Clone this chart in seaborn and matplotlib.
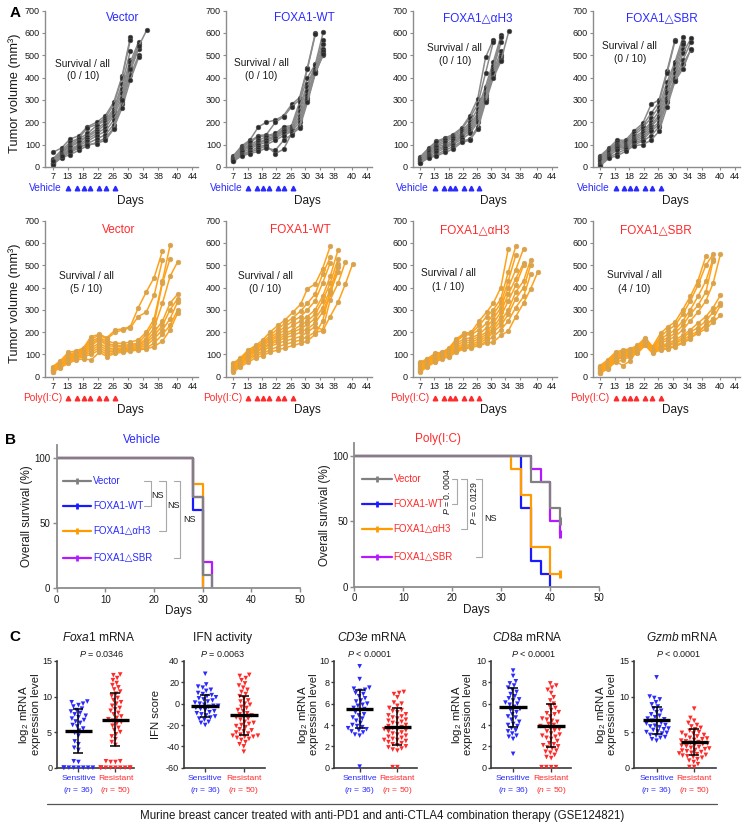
import numpy as np
import pandas as pd
import matplotlib
matplotlib.use("Agg")
import matplotlib.pyplot as plt
import seaborn as sns

# ============================ DATA ============================
# ---- Panel A : tumour growth ----
A_tick_pos = [7, 11, 15, 19, 23, 27, 31, 35, 40, 44]
A_tick_lab = ["7", "13", "18", "22", "26", "30", "34", "38", "40", "44"]
A_yticks = [0, 100, 200, 300, 400, 500, 600, 700]
veh_days = [7, 9.4, 11.6, 14, 16.2, 18.7, 21, 23.2, 25.4, 27.6, 29.8, 32]
poly_days = [7, 9, 11.2, 13.2, 15.2, 17.2, 19.4, 21.4, 23.6, 25.7, 27.6, 29.7, 31.8, 33.9, 36.1, 38.1, 40.1]
dose_days = [11.2, 13.6, 15.3, 16.9, 19.4, 21.2, 23.6]
groups = ["Vector", "FOXA1-WT", "FOXA1△αH3", "FOXA1△SBR"]
veh_survival = ["(0 / 10)", "(0 / 10)", "(0 / 10)", "(0 / 10)"]
poly_survival = ["(5 / 10)", "(0 / 10)", "(1 / 10)", "(4 / 10)"]

veh_vector = [
    [65, 85, 125, 140, 180, 200, 230, 290, 405, 580],
    [35, 75, 110, 130, 175, 190, 220, 280, 400, 570],
    [30, 70, 100, 125, 150, 185, 210, 260, 370, 520],
    [25, 65, 95, 115, 140, 170, 200, 250, 350, 480],
    [20, 60, 90, 110, 135, 160, 190, 240, 330, 470, 560],
    [18, 55, 80, 100, 125, 150, 175, 230, 310, 450, 550],
    [15, 50, 75, 95, 115, 140, 160, 210, 290, 430, 530],
    [12, 45, 65, 85, 105, 125, 145, 190, 280, 410, 500],
    [10, 42, 55, 75, 95, 110, 130, 175, 265, 390, 490],
    [28, 48, 70, 90, 100, 105, 120, 170, 300, 440, 540, 615],
]
veh_wt = [
    [50, 95, 120, 180, 200, 210, 230, 280, 310, 445, 600],
    [45, 90, 115, 140, 145, 200, 225, 270, 300, 440, 595],
    [42, 85, 110, 135, 140, 150, 180, 185, 290, 400, 460, 605],
    [40, 80, 100, 120, 135, 145, 170, 180, 270, 370, 455, 570],
    [38, 75, 95, 110, 125, 140, 165, 175, 250, 360, 440, 550],
    [35, 70, 90, 105, 120, 135, 160, 170, 230, 340, 430, 530],
    [32, 65, 80, 100, 110, 130, 150, 165, 215, 320, 420, 510],
    [30, 60, 70, 90, 100, 120, 140, 160, 200, 310, 430, 500],
    [28, 55, 65, 80, 95, 60, 80, 150, 185, 300, 425, 520],
    [25, 50, 60, 70, 85, 75, 120, 145, 175, 290, 420, 505],
]
veh_ah3 = [
    [45, 85, 115, 130, 145, 175, 230, 305, 490, 570],
    [40, 80, 110, 125, 140, 170, 220, 280, 420, 560],
    [38, 75, 100, 120, 135, 160, 200, 260, 360, 470, 590],
    [35, 70, 95, 110, 130, 150, 190, 240, 350, 450, 580],
    [30, 65, 90, 100, 120, 145, 180, 230, 330, 440, 560],
    [28, 60, 80, 95, 110, 140, 170, 220, 320, 430, 520],
    [25, 55, 75, 90, 105, 135, 160, 210, 310, 420, 500],
    [22, 50, 65, 85, 100, 125, 150, 200, 300, 410, 490],
    [20, 45, 55, 75, 90, 115, 125, 180, 300, 420, 480, 610],
    [18, 40, 50, 65, 80, 110, 120, 170, 290, 400, 475],
]
veh_sbr = [
    [50, 85, 120, 120, 160, 195, 280, 300, 430, 570],
    [45, 80, 110, 115, 150, 185, 240, 290, 420, 565],
    [40, 75, 105, 110, 140, 175, 220, 270, 380, 470, 580],
    [35, 70, 100, 105, 130, 160, 200, 250, 360, 460, 560],
    [30, 65, 95, 100, 125, 150, 190, 230, 340, 440, 550],
    [25, 60, 90, 95, 120, 140, 180, 220, 330, 420, 530],
    [20, 55, 85, 90, 115, 130, 170, 200, 310, 400, 510, 575],
    [15, 50, 75, 85, 110, 120, 160, 190, 300, 390, 480, 560],
    [10, 45, 60, 80, 100, 115, 140, 180, 290, 385, 460, 525],
    [5, 40, 50, 70, 95, 100, 120, 160, 270, 385, 440, 530],
]
poly_vector = [
    [45, 70, 110, 115, 130, 180, 190, 175, 210, 215, 225, 310, 380, 445, 565],
    [40, 65, 100, 110, 125, 170, 185, 170, 200, 210, 220, 270, 290, 365, 525],
    [38, 62, 95, 105, 120, 160, 175, 160, 150, 150, 155, 165, 200, 260, 430, 590],
    [35, 60, 90, 100, 115, 150, 170, 150, 140, 140, 145, 150, 190, 240, 420, 530],
    [32, 58, 85, 98, 110, 140, 165, 140, 135, 135, 140, 145, 170, 220, 330, 450, 515],
    [30, 55, 80, 95, 105, 130, 150, 130, 125, 130, 135, 140, 160, 200, 250, 330, 370],
    [28, 52, 75, 90, 100, 120, 140, 120, 120, 125, 130, 135, 150, 185, 230, 300, 350],
    [25, 50, 70, 85, 95, 110, 130, 110, 115, 120, 125, 130, 140, 170, 210, 260, 335],
    [22, 45, 65, 80, 90, 100, 120, 100, 110, 115, 120, 125, 130, 150, 190, 230, 300],
    [20, 40, 60, 75, 80, 75, 110, 90, 105, 110, 115, 120, 125, 135, 160, 210, 285],
]
poly_wt = [
    [60, 85, 120, 140, 165, 200, 230, 255, 290, 325, 395, 415, 485, 585],
    [55, 80, 115, 135, 155, 185, 215, 240, 265, 295, 330, 370, 460, 535],
    [50, 75, 110, 130, 150, 175, 200, 225, 250, 270, 300, 340, 420, 510],
    [45, 72, 105, 125, 145, 165, 190, 210, 230, 250, 270, 300, 360, 450, 570],
    [40, 68, 100, 120, 140, 160, 180, 195, 210, 230, 250, 280, 340, 420, 530],
    [35, 65, 95, 115, 130, 150, 170, 185, 200, 215, 235, 260, 310, 390, 505],
    [30, 60, 90, 110, 125, 145, 160, 175, 185, 200, 215, 240, 290, 370, 490],
    [28, 55, 85, 100, 115, 135, 150, 160, 170, 180, 200, 225, 210, 345, 420, 515],
    [25, 50, 75, 95, 105, 120, 135, 145, 155, 165, 180, 200, 205, 270, 335, 415, 505],
    [20, 45, 65, 85, 95, 110, 120, 130, 140, 150, 160, 190, 250, 380, 470],
]
poly_ah3 = [
    [65, 80, 105, 110, 130, 170, 195, 200, 250, 290, 330, 400, 575],
    [60, 78, 100, 108, 125, 165, 190, 195, 230, 270, 300, 350, 470, 585],
    [55, 75, 98, 105, 120, 160, 185, 190, 210, 240, 280, 330, 430, 545],
    [50, 70, 95, 103, 115, 150, 170, 175, 190, 220, 260, 310, 400, 480, 575],
    [45, 68, 90, 100, 110, 140, 160, 165, 180, 200, 240, 290, 370, 440, 510],
    [40, 65, 85, 98, 105, 130, 150, 155, 170, 190, 220, 270, 340, 410, 500],
    [35, 60, 80, 95, 100, 125, 140, 145, 160, 180, 210, 250, 300, 380, 430, 525],
    [30, 55, 75, 90, 95, 120, 135, 140, 150, 170, 200, 230, 280, 350, 400, 500],
    [25, 50, 70, 85, 92, 115, 130, 135, 140, 160, 180, 210, 250, 310, 360, 460],
    [20, 45, 65, 80, 90, 110, 125, 130, 140, 150, 155, 185, 205, 270, 330, 395, 470],
]
poly_sbr = [
    [50, 75, 110, 120, 125, 140, 175, 135, 195, 225, 245, 300, 360, 430, 540],
    [45, 70, 105, 115, 120, 135, 170, 130, 180, 210, 230, 280, 340, 410, 500, 550],
    [40, 65, 100, 110, 118, 130, 165, 128, 170, 190, 210, 250, 300, 360, 430, 530],
    [38, 62, 95, 105, 115, 128, 160, 125, 160, 175, 195, 230, 280, 320, 380, 520],
    [35, 60, 90, 100, 110, 125, 158, 122, 150, 165, 180, 210, 250, 290, 340, 420, 550],
    [30, 55, 85, 95, 105, 120, 155, 120, 140, 150, 165, 185, 210, 240, 270, 310, 365],
    [25, 50, 80, 90, 100, 115, 150, 118, 135, 145, 155, 175, 200, 220, 250, 290, 330],
    [22, 45, 75, 85, 95, 110, 148, 115, 130, 140, 150, 165, 185, 205, 230, 260, 320],
    [18, 40, 70, 50, 70, 120, 145, 110, 125, 130, 140, 155, 175, 195, 215, 245, 275],
    [15, 35, 65, 75, 90, 105, 140, 105, 120, 125, 135, 150, 170, 200, 230, 260],
]

# ---- Panel B : Kaplan-Meier ----
km_groups = ["Vector", "FOXA1-WT", "FOXA1△αH3", "FOXA1△SBR"]
veh_km_t = [[0, 28, 30, 32], [0, 28, 30], [0, 28, 30], [0, 28, 30, 32]]
veh_km_s = [[100, 70, 10, 0], [100, 60, 0], [100, 80, 0], [100, 70, 20, 0]]
poly_km_t = [[0, 36, 40, 42], [0, 34, 36, 38, 40], [0, 32, 34, 36, 40, 42], [0, 36, 38, 40, 42]]
poly_km_s = [[100, 80, 60, 50], [100, 60, 20, 10, 0], [100, 90, 70, 30, 10, 10], [100, 90, 80, 50, 40]]
poly_censored = [True, False, True, True]

# ---- Panel C : GSE124821 ----
c_titles = [r"$\it{Foxa1}$ mRNA", "IFN activity", r"$\it{CD3e}$ mRNA", r"$\it{CD8a}$ mRNA", r"$\it{Gzmb}$ mRNA"]
c_pvals = [r"$\it{P}$ = 0.0346", r"$\it{P}$ = 0.0063", r"$\it{P}$ < 0.0001", r"$\it{P}$ < 0.0001", r"$\it{P}$ < 0.0001"]
c_groups = ["Sensitive", "Resistant"]
c_n = [36, 50]
foxa1_sens = [9.3, 9.2, 9.0, 8.8, 8.6, 8.3, 8.1, 7.9, 7.7, 7.5, 7.3, 7.1, 6.9, 6.7, 6.5, 6.3, 6.0, 5.8,
              5.5, 5.2, 4.9, 4.5, 3.7, 3.3, 2.8, 2.5, 0.9, 0.8, 0, 0, 0, 0, 0, 0, 0, 0]
foxa1_res = [13.1, 13.0, 12.6, 12.3, 11.9, 11.6, 11.3, 11.0, 10.7, 10.4, 10.1, 9.8, 9.5, 9.2, 9.0, 8.7,
             8.4, 8.2, 8.0, 7.7, 7.5, 7.2, 7.0, 6.8, 6.6, 6.4, 6.2, 5.9, 5.6, 5.3, 5.0, 4.7, 4.4, 4.0,
             3.6, 3.2, 0.9, 0.9, 0.8, 0.8, 0, 0, 0, 0, 0, 0, 0, 0, 0, 0]
ifn_sens = [28, 18, 16, 15, 13, 12, 10, 9, 8, 7, 6, 5, 4, 3, 2, 1, 0, -1, -2, -2, -3, -4, -5, -6, -7,
            -8, -9, -10, -11, -12, -13, -14, -15, -17, -18, -20]
ifn_res = [27, 26, 24, 22, 19, 17, 15, 13, 11, 9, 7, 5, 3, 2, 0, -1, -3, -4, -6, -7, -9, -10, -11, -12,
           -13, -14, -15, -17, -18, -19, -20, -21, -22, -24, -25, -26, -27, -28, -29, -30, -30, -31,
           -31, -32, -33, -34, -36, -38, -40, -45]
cd3e_sens = [9.5, 8.3, 7.5, 7.4, 7.3, 7.2, 7.0, 6.9, 6.7, 6.5, 6.3, 6.2, 6.0, 5.9, 5.8, 5.6, 5.5, 5.4,
             5.2, 5.0, 4.9, 4.7, 4.6, 4.4, 4.2, 4.0, 3.9, 3.8, 3.7, 3.6, 3.5, 3.4, 3.3, 3.1, 3.0, 0.1]
cd3e_res = [7.1, 7.0, 6.9, 6.6, 6.1, 6.0, 5.8, 5.6, 5.4, 5.2, 5.0, 4.9, 4.8, 4.6, 4.5, 4.4, 4.3, 4.2,
            4.1, 4.0, 3.9, 3.8, 3.7, 3.6, 3.5, 3.4, 3.3, 3.2, 3.1, 3.0, 2.9, 2.8, 2.7, 2.6, 2.5, 2.4,
            2.3, 2.2, 2.1, 2.0, 1.9, 1.8, 1.7, 1.6, 2.6, 3.6, 4.7, 5.3, 0.05, 0.05]
cd8a_sens = [9.1, 8.6, 8.1, 7.9, 7.7, 7.5, 7.3, 7.1, 6.9, 6.7, 6.5, 6.4, 6.3, 6.1, 6.0, 5.9, 5.7, 5.5,
             5.4, 5.2, 5.0, 4.8, 4.7, 4.5, 4.3, 4.1, 4.0, 3.9, 3.7, 3.5, 3.4, 3.2, 3.0, 2.9, 2.7, 1.3]
cd8a_res = [7.9, 7.7, 7.5, 7.3, 7.0, 6.6, 6.3, 6.0, 5.8, 5.6, 5.4, 5.2, 5.0, 4.8, 4.6, 4.5, 4.3, 4.1,
            4.0, 3.9, 3.8, 3.6, 3.5, 3.4, 3.2, 3.1, 3.0, 2.9, 2.7, 2.5, 2.3, 2.1, 2.0, 1.9, 1.8, 1.6,
            1.4, 1.2, 1.0, 0.9, 5.1, 4.4, 3.7, 2.8, 2.2, 1.5, 0.05, 0.05, 0.05, 0.05]
gzmb_sens = [12.7, 10.0, 9.8, 9.6, 9.2, 8.9, 8.6, 8.3, 8.0, 7.8, 7.5, 7.3, 7.1, 6.9, 6.8, 6.6, 6.5,
             6.3, 6.2, 6.0, 5.9, 5.8, 5.7, 5.5, 5.4, 5.3, 5.1, 5.0, 4.9, 4.8, 4.6, 4.5, 4.3, 4.2, 4.0, 3.8]
gzmb_res = [8.3, 7.0, 6.6, 6.3, 6.0, 5.8, 5.6, 5.4, 5.2, 5.0, 4.9, 4.8, 4.6, 4.5, 4.4, 4.2, 4.1, 4.0,
            3.9, 3.8, 3.7, 3.6, 3.5, 3.4, 3.3, 3.2, 3.1, 3.0, 2.9, 2.8, 2.7, 2.6, 2.5, 2.4, 2.3, 2.2,
            2.1, 2.0, 1.9, 1.8, 1.7, 1.6, 1.5, 1.4, 1.2, 1.0, 0.8, 0.5, 0.1, 0.1]
c_mean_sens = [5.1, -2.0, 5.5, 5.65, 6.65]
c_sd_sens = [3.1, 10.3, 1.8, 1.8, 1.85]
c_mean_res = [6.75, -11.0, 3.85, 3.95, 3.65]
c_sd_res = [3.75, 18.2, 1.72, 2.05, 1.85]
c_ylims = [(0, 15), (-60, 40), (0, 10), (0, 10), (0, 15)]
c_yticks = [[0, 5, 10, 15], [-60, -40, -20, 0, 20, 40], [0, 2, 4, 6, 8, 10], [0, 2, 4, 6, 8, 10], [0, 5, 10, 15]]
c_ylabels = ["log$_2$ mRNA\nexpression level", "IFN score", "log$_2$ mRNA\nexpression level",
             "log$_2$ mRNA\nexpression level", "log$_2$ mRNA\nexpression level"]
caption = "Murine breast cancer treated with anti-PD1 and anti-CTLA4 combination therapy (GSE124821)"

# ============================ STYLE ============================
sns.set_theme(style="white")
plt.rcParams["font.family"] = ["Liberation Sans", "DejaVu Sans"]
plt.rcParams["mathtext.fontset"] = "custom"
plt.rcParams["mathtext.rm"] = "Liberation Sans"
plt.rcParams["mathtext.it"] = "Liberation Sans:italic"
plt.rcParams["mathtext.bf"] = "Liberation Sans:bold"
plt.rcParams["axes.unicode_minus"] = False

BLUE = "#2a2aff"
RED = "#ff2a2a"
GRAY_LINE = "#8a8a8a"
GRAY_MARK = "#2b2b2b"
ORANGE_LINE = "#ffa21a"
ORANGE_MARK = "#d9a24c"
KM_COLORS = ["#808080", "#1a1aff", "#ff9a00", "#b41aff"]
AX_GRAY = "#8c8c8c"
TXT = "#1a1a1a"

W, H = 750, 831
fig = plt.figure(figsize=(W / 100, H / 100), dpi=100)


def add_ax(l, t, r, b):
    return fig.add_axes([l / W, 1 - b / H, (r - l) / W, (b - t) / H])


def ftext(x, y, s, **kw):
    fig.text(x / W, 1 - y / H, s, **kw)


def style_axes(ax, color, lw, length, labelsize, pad):
    for s in ["top", "right"]:
        ax.spines[s].set_visible(False)
    for s in ["left", "bottom"]:
        ax.spines[s].set_color(color)
        ax.spines[s].set_linewidth(lw)
    ax.tick_params(axis="both", which="both", bottom=True, left=True, direction="out",
                   length=length, width=lw * 0.8, color=color, labelsize=labelsize,
                   pad=pad, labelcolor=TXT)
    ax.grid(False)


# ============================ PANEL A ============================
col_bounds = [(45, 198), (226, 372), (413, 557), (593, 740)]
row_bounds = [(10.5, 167), (220.7, 376.7)]
title_xy = [[(0.51, 0.953), (0.54, 0.953), (0.45, 0.953), (0.47, 0.953)],
            [(0.48, 0.938), (0.507, 0.938), (0.43, 0.938), (0.43, 0.938)]]
surv_xy = [[(0.246, 0.66, 0.58), (0.24, 0.665, 0.58), (0.29, 0.76, 0.675), (0.25, 0.775, 0.69)],
           [(0.27, 0.647, 0.56), (0.267, 0.647, 0.56), (0.245, 0.663, 0.577), (0.28, 0.652, 0.565)]]

rows = [
    dict(series=[veh_vector, veh_wt, veh_ah3, veh_sbr], days=veh_days, lc=GRAY_LINE, mc=GRAY_MARK,
         mec="#555555", tc=BLUE, treat="Vehicle", surv=veh_survival),
    dict(series=[poly_vector, poly_wt, poly_ah3, poly_sbr], days=poly_days, lc=ORANGE_LINE,
         mc=ORANGE_MARK, mec=ORANGE_MARK, tc=RED, treat="Poly(I:C)", surv=poly_survival),
]

for r, row in enumerate(rows):
    for c in range(4):
        l, rr = col_bounds[c]
        t, b = row_bounds[r]
        ax = add_ax(l, t, rr, b)
        recs = []
        for m, vals in enumerate(row["series"][c]):
            for d, v in zip(row["days"], vals):
                recs.append({"mouse": m, "day": d, "vol": v})
        df = pd.DataFrame(recs)
        sns.lineplot(data=df, x="day", y="vol", units="mouse", estimator=None, sort=False,
                     color=row["lc"], linewidth=1.1, marker="o", markersize=3.4,
                     markerfacecolor=row["mc"], markeredgecolor=row["mec"], markeredgewidth=0.4,
                     ax=ax, legend=False)
        ax.set_xlim(5, 45.5)
        ax.set_ylim(0, 700)
        ax.set_xticks(A_tick_pos)
        ax.set_xticklabels(A_tick_lab)
        ax.set_yticks(A_yticks)
        style_axes(ax, AX_GRAY, 1.0, 2.5, 6.5, 1.2)
        ax.set_xlabel("")
        ax.set_ylabel("")
        ax.text(0.56, -0.215, "Days", transform=ax.transAxes, ha="center", va="center",
                fontsize=8.5, color=TXT)
        tx, ty = title_xy[r][c]
        ax.text(tx, ty, groups[c], transform=ax.transAxes, ha="center", va="center",
                fontsize=8.5, color=row["tc"])
        sx, sy1, sy2 = surv_xy[r][c]
        ax.text(sx, sy1, "Survival / all", transform=ax.transAxes, ha="center", va="center",
                fontsize=7.3, color=TXT)
        ax.text(sx, sy2, row["surv"][c], transform=ax.transAxes, ha="center", va="center",
                fontsize=7.3, color=TXT)
        trans = ax.get_xaxis_transform()
        ax.plot(dose_days, [-0.135] * len(dose_days), transform=trans, ls="none", marker="^",
                ms=3.3, color=row["tc"], clip_on=False)
        ax.text(9.5, -0.135, row["treat"], transform=trans, ha="right", va="center",
                fontsize=7.3, color=row["tc"])
        if c == 0:
            ax.text(-0.196, 0.47, "Tumor volume (mm³)", transform=ax.transAxes, rotation=90,
                    ha="center", va="center", fontsize=9.3, color=TXT)

ftext(15, 13, "A", fontsize=11, fontweight="bold", ha="center", va="center", color="black")

# ============================ PANEL B ============================
b_specs = [
    dict(box=(56.7, 444.7, 300, 588.3), t=veh_km_t, s=veh_km_s, cens=[False] * 4, title="Vehicle",
         tc=BLUE, title_x=0.35, leg_y=[0.747, 0.575, 0.399, 0.213], leg_x=(0.026, 0.14, 0.15)),
    dict(box=(354.3, 442.9, 599.3, 586.7), t=poly_km_t, s=poly_km_s, cens=poly_censored,
         title="Poly(I:C)", tc=RED, title_x=0.342, leg_y=[0.749, 0.573, 0.399, 0.209],
         leg_x=(0.03, 0.153, 0.16)),
]
draw_order = [3, 1, 2, 0]
for k, sp in enumerate(b_specs):
    ax = add_ax(*sp["box"])
    for i in draw_order:
        dfk = pd.DataFrame({"t": sp["t"][i], "s": sp["s"][i]})
        sns.lineplot(data=dfk, x="t", y="s", estimator=None, sort=False, drawstyle="steps-post",
                     color=KM_COLORS[i], linewidth=1.6, ax=ax, legend=False)
        if sp["cens"][i]:
            ax.plot(sp["t"][i][-1:], sp["s"][i][-1:], ls="none", marker="|", ms=6, mew=2.2,
                    color=KM_COLORS[i], clip_on=False)
    ax.set_xlim(0, 50)
    ax.set_ylim(0, 110)
    ax.set_xticks([0, 10, 20, 30, 40, 50])
    ax.set_yticks([0, 50, 100])
    style_axes(ax, AX_GRAY, 1.3, 3, 7, 1.5)
    ax.set_xlabel("Days", fontsize=8.5, color=TXT, labelpad=0.5)
    ax.set_ylabel("Overall survival (%)", fontsize=8.5, color=TXT, labelpad=1)
    ax.text(sp["title_x"], 1.03, sp["title"], transform=ax.transAxes, ha="center", va="center",
            fontsize=8.5, color=sp["tc"])
    x0, x1, xt = sp["leg_x"]
    for i, g in enumerate(km_groups):
        yy = sp["leg_y"][i]
        ax.plot([x0, x1], [yy, yy], transform=ax.transAxes, color=KM_COLORS[i], lw=1.6)
        ax.plot([(x0 + x1) / 2], [yy], transform=ax.transAxes, marker="|", ms=5, mew=2,
                color=KM_COLORS[i])
        ax.text(xt, yy, g, transform=ax.transAxes, ha="left", va="center", fontsize=7,
                color=sp["tc"])
    ly = sp["leg_y"]
    br = "#a8a8a8"
    if k == 0:
        brackets = [(0.36, 0.386, 1, 0.416, 0.645), (0.422, 0.448, 2, 0.479, 0.575),
                    (0.482, 0.507, 3, 0.545, 0.48)]
        for xt_, xb_, j, tx, ty in brackets:
            ax.plot([xt_, xb_, xb_, xt_], [ly[0], ly[0], ly[j], ly[j]], transform=ax.transAxes,
                    color=br, lw=0.8)
            ax.text(tx, ty, "NS", transform=ax.transAxes, ha="center", va="center", fontsize=6.5,
                    color=TXT)
    else:
        brackets = [(0.398, 0.418, 1), (0.434, 0.459, 2), (0.497, 0.52, 3)]
        for xt_, xb_, j in brackets:
            ax.plot([xt_, xb_, xb_, xt_], [ly[0], ly[0], ly[j], ly[j]], transform=ax.transAxes,
                    color=br, lw=0.8)
        ax.text(0.378, 0.66, r"$\it{P}$ = 0. 0004", transform=ax.transAxes, rotation=90,
                ha="center", va="center", fontsize=6.3, color=TXT)
        ax.text(0.489, 0.58, r"$\it{P}$ = 0.0129", transform=ax.transAxes, rotation=90,
                ha="center", va="center", fontsize=6.3, color=TXT)
        ax.text(0.557, 0.471, "NS", transform=ax.transAxes, ha="center", va="center",
                fontsize=6.5, color=TXT)

ftext(10, 440, "B", fontsize=11, fontweight="bold", ha="center", va="center", color="black")

# ============================ PANEL C ============================
c_bounds = [(57, 134, (-0.58, 1.5)), (184, 265, (-0.55, 1.55)), (334, 417, (-0.68, 1.52)),
            (491, 571, (-0.58, 1.52)), (634, 716, (-0.6, 1.58))]
c_data = [(foxa1_sens, foxa1_res), (ifn_sens, ifn_res), (cd3e_sens, cd3e_res),
          (cd8a_sens, cd8a_res), (gzmb_sens, gzmb_res)]
c_title_x = [0.54, 0.48, 0.46, 0.45, 0.59]
c_p_x = [0.58, 0.48, 0.43, 0.53, 0.54]
c_ylab_x = [-0.36, -0.345, -0.32, -0.37, -0.35]
C_TOP, C_BOT = 661, 767.7
for k in range(5):
    l, r, xl = c_bounds[k]
    ax = add_ax(l, C_TOP, r, C_BOT)
    sens, res = c_data[k]
    dfc = pd.DataFrame({"grp": [c_groups[0]] * len(sens) + [c_groups[1]] * len(res),
                        "val": list(sens) + list(res)})
    sns.swarmplot(data=dfc, x="grp", y="val", hue="grp", order=c_groups, hue_order=c_groups,
                  palette={c_groups[0]: BLUE, c_groups[1]: RED}, marker="v", size=3.3,
                  linewidth=0, ax=ax, legend=False, clip_on=False, warn_thresh=1)
    means = [c_mean_sens[k], c_mean_res[k]]
    sds = [c_sd_sens[k], c_sd_res[k]]
    ax.errorbar([0, 1], means, yerr=sds, fmt="none", ecolor="black", elinewidth=1.1,
                capsize=3.6, capthick=1.1, zorder=5)
    ax.hlines(means, [-0.36, 0.64], [0.36, 1.36], color="black", lw=2.4, zorder=6)
    ax.set_xlim(*xl)
    ax.set_ylim(*c_ylims[k])
    ax.set_yticks(c_yticks[k])
    ax.set_xticks([0, 1])
    ax.set_xticklabels([f"{c_groups[0]}\n($\\it{{n}}$ = {c_n[0]})",
                        f"{c_groups[1]}\n($\\it{{n}}$ = {c_n[1]})"], linespacing=1.35)
    style_axes(ax, "#3a3a3a", 1.2, 2.5, 6.5, 1.0)
    ax.tick_params(axis="x", labelsize=6.1, pad=2.5, length=3)
    for lab, col in zip(ax.get_xticklabels(), [BLUE, RED]):
        lab.set_color(col)
    ax.set_xlabel("")
    ax.set_ylabel("")
    ax.text(c_ylab_x[k], 0.5, c_ylabels[k], transform=ax.transAxes, rotation=90, ha="center",
            va="center", fontsize=8.2, color=TXT, linespacing=0.95)
    ax.text(c_title_x[k], 1.218, c_titles[k], transform=ax.transAxes, ha="center", va="center",
            fontsize=8.6, color=TXT)
    ax.text(c_p_x[k], 1.066, c_pvals[k], transform=ax.transAxes, ha="center", va="center",
            fontsize=6.5, color=TXT)

ftext(15, 637, "C", fontsize=11, fontweight="bold", ha="center", va="center", color="black")
fig.add_artist(plt.Line2D([46.7 / W, 716.7 / W], [1 - 804.3 / H, 1 - 804.3 / H],
                          transform=fig.transFigure, color="#555555", lw=0.9))
ftext(381.7, 816, caption, fontsize=8.3, ha="center", va="center", color=TXT)

fig.savefig("out.png", dpi=100, facecolor="white")
